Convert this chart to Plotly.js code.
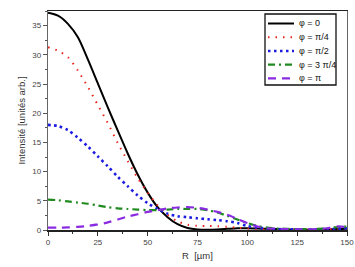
<!DOCTYPE html>
<html>
<head>
<meta charset="utf-8">
<script src="https://cdn.plot.ly/plotly-3.0.1.min.js"></script>
<style>
  html, body { margin: 0; padding: 0; background: #fff; }
  #chart { width: 355px; height: 267px; }
</style>
</head>
<body>
<div id="chart"></div>
<script>
// Radial position R (µm)
const R = [0, 5, 10, 15, 20, 25, 30, 35, 40, 45, 50, 55, 60, 65, 70, 75,
           80, 85, 90, 95, 100, 105, 110, 115, 120, 125, 130, 135, 140, 145, 150];

// Intensity profiles (arbitrary units) for each phase phi
const phi0    = [37.2, 36.7, 35.3, 33.0, 29.2, 25.1, 21.0, 17.0, 13.1, 9.5, 6.4, 3.9, 2.2, 1.0, 0.35, 0.1,
                 0.05, 0.1, 0.2, 0.3, 0.3, 0.25, 0.2, 0.15, 0.1, 0.05, 0.05, 0.05, 0.1, 0.15, 0.2];
const phiPi4  = [31.3, 30.7, 29.6, 27.3, 24.5, 21.4, 18.3, 14.9, 11.8, 8.9, 6.4, 4.2, 2.6, 1.5, 0.9, 0.7,
                 0.7, 0.65, 0.55, 0.4, 0.25, 0.15, 0.1, 0.1, 0.05, 0.05, 0.05, 0.1, 0.15, 0.2, 0.3];
const phiPi2  = [18.0, 17.8, 17.1, 15.8, 14.3, 12.6, 10.9, 9.1, 7.5, 5.9, 4.6, 3.6, 2.8, 2.35, 2.2, 2.0,
                 1.85, 1.7, 1.5, 1.2, 0.7, 0.4, 0.25, 0.15, 0.1, 0.1, 0.05, 0.1, 0.15, 0.2, 0.3];
const phi3Pi4 = [5.2, 5.1, 4.9, 4.7, 4.5, 4.2, 3.9, 3.7, 3.6, 3.5, 3.4, 3.4, 3.5, 3.6, 3.6, 3.6,
                 3.4, 3.0, 2.4, 1.8, 1.2, 0.7, 0.4, 0.25, 0.2, 0.15, 0.15, 0.2, 0.3, 0.5, 0.6];
const phiPi   = [0.4, 0.4, 0.45, 0.55, 0.7, 0.95, 1.3, 1.8, 2.3, 2.7, 3.1, 3.4, 3.7, 3.85, 3.9, 3.8,
                 3.5, 3.1, 2.6, 1.9, 1.2, 0.6, 0.3, 0.2, 0.15, 0.1, 0.1, 0.15, 0.3, 0.6, 0.5];

const seriesNames = ['\u03c6 = 0', '\u03c6 = \u03c0/4', '\u03c6 = \u03c0/2', '\u03c6 = 3 \u03c0/4', '\u03c6 = \u03c0'];

const xTicks = [0, 25, 50, 75, 100, 125, 150];
const yTicks = [0, 5, 10, 15, 20, 25, 30, 35];

const FONT = 'Liberation Sans, Arial, sans-serif';

const styles = [
  { color: '#000000', width: 2.0, dash: 'solid' },
  { color: '#e8251d', width: 2.0, dash: '1.5px,6px' },
  { color: '#1c1ce0', width: 2.6, dash: '2.5px,3.5px' },
  { color: '#1f8a1f', width: 2.2, dash: '7px,4px,2px,4px' },
  { color: '#8a2be2', width: 2.2, dash: '8px,6px' }
];

const profiles = [phi0, phiPi4, phiPi2, phi3Pi4, phiPi];

const traces = profiles.map((y, i) => ({
  type: 'scatter',
  mode: 'lines',
  x: R,
  y: y,
  name: seriesNames[i],
  line: { color: styles[i].color, width: styles[i].width, dash: styles[i].dash, shape: 'spline', smoothing: 0.8 },
  showlegend: false,
  hoverinfo: 'skip'
}));

// Plot-area geometry in pixels, used to place the legend box
const W = 355, H = 267;
const M = { l: 48, r: 8, t: 11, b: 37 };
const pw = W - M.l - M.r, ph = H - M.t - M.b;
const px = x => (x - M.l) / pw;
const py = y => (H - M.b - y) / ph;

const shapes = [];
const annotations = [];

// Legend frame
shapes.push({
  type: 'rect', xref: 'paper', yref: 'paper',
  x0: px(265), x1: px(336), y0: py(85), y1: py(14),
  line: { color: '#111', width: 1.3 }, fillcolor: '#fff', layer: 'above'
});

const rowY = [23.5, 37.3, 51, 64.7, 78.3];
seriesNames.forEach((name, i) => {
  shapes.push({
    type: 'line', xref: 'paper', yref: 'paper',
    x0: px(268), x1: px(294), y0: py(rowY[i]), y1: py(rowY[i]),
    line: { color: styles[i].color, width: styles[i].width, dash: styles[i].dash },
    layer: 'above'
  });
  annotations.push({
    xref: 'paper', yref: 'paper', x: px(297), y: py(rowY[i]),
    xanchor: 'left', yanchor: 'middle', showarrow: false,
    text: name, font: { family: FONT, size: 9, color: '#111' }
  });
});

const layout = {
  width: W, height: H,
  margin: M,
  paper_bgcolor: '#fff', plot_bgcolor: '#fff',
  showlegend: false,
  hovermode: false,
  font: { family: FONT, size: 8, color: '#444' },
  xaxis: {
    range: [0, 150],
    tickvals: xTicks, ticktext: xTicks.map(String),
    ticks: 'outside', ticklen: 4, tickwidth: 1, tickcolor: '#333',
    minor: { dtick: 12.5, ticks: 'outside', ticklen: 2, tickcolor: '#333' },
    showgrid: false, zeroline: false,
    showline: true, linecolor: '#222', linewidth: 1.5, mirror: true,
    tickfont: { family: FONT, size: 8, color: '#444' },
    title: { text: 'R  [\u00b5m]', font: { family: FONT, size: 9.5, color: '#333' }, standoff: 6 }
  },
  yaxis: {
    range: [0, 37.5],
    tickvals: yTicks, ticktext: yTicks.map(String),
    ticks: 'outside', ticklen: 4, tickwidth: 1, tickcolor: '#555',
    minor: { dtick: 2.5, ticks: 'outside', ticklen: 2, tickcolor: '#555' },
    showgrid: false, zeroline: false,
    showline: true, linecolor: '#666', linewidth: 1.2, mirror: true,
    tickfont: { family: FONT, size: 8, color: '#444' },
    title: { text: 'Intensit\u00e9 [unit\u00e9s arb.]', font: { family: FONT, size: 9.5, color: '#333' }, standoff: 5 }
  },
  shapes: shapes,
  annotations: annotations
};

Plotly.newPlot('chart', traces, layout, { displayModeBar: false, staticPlot: true });
</script>
</body>
</html>
